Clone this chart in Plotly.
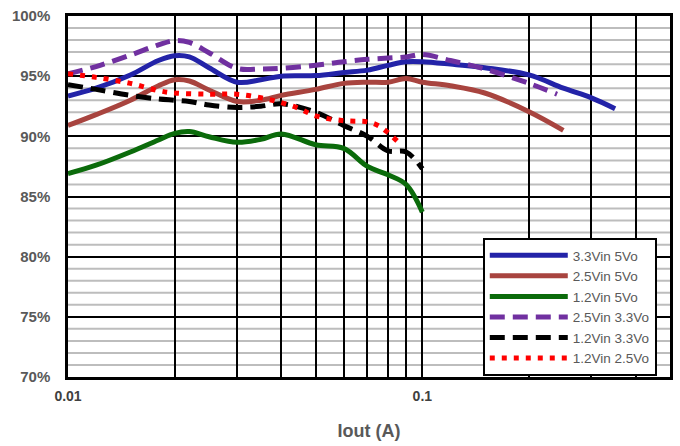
import plotly.graph_objects as go

# Data (efficiency in %, Iout in A)
x_33_5 = [0.01, 0.012, 0.015, 0.018, 0.02, 0.022, 0.025, 0.03, 0.035, 0.04, 0.05, 0.06, 0.07, 0.08, 0.09, 0.1, 0.12, 0.15, 0.2, 0.25, 0.3, 0.35]
y_33_5 = [93.35, 94.0, 95.1, 96.3, 96.7, 96.6, 95.7, 94.5, 94.7, 95.0, 95.05, 95.3, 95.5, 95.9, 96.2, 96.2, 96.0, 95.7, 95.1, 94.0, 93.2, 92.3]

x_25_5 = [0.01, 0.012, 0.015, 0.018, 0.02, 0.022, 0.025, 0.03, 0.035, 0.04, 0.05, 0.06, 0.07, 0.08, 0.09, 0.1, 0.12, 0.15, 0.2, 0.25]
y_25_5 = [90.9, 91.8, 93.0, 94.2, 94.7, 94.6, 93.85, 92.9, 93.0, 93.4, 93.9, 94.4, 94.5, 94.5, 94.8, 94.5, 94.2, 93.6, 92.05, 90.5]

x_12_5 = [0.01, 0.012, 0.015, 0.018, 0.02, 0.022, 0.025, 0.03, 0.035, 0.04, 0.05, 0.06, 0.07, 0.08, 0.09, 0.1]
y_12_5 = [86.9, 87.6, 88.7, 89.7, 90.25, 90.4, 89.97, 89.5, 89.75, 90.2, 89.3, 89.0, 87.5, 86.8, 86.0, 83.7]

x_25_33 = [0.01, 0.012, 0.015, 0.018, 0.02, 0.022, 0.025, 0.03, 0.035, 0.04, 0.05, 0.06, 0.07, 0.08, 0.09, 0.1, 0.12, 0.15, 0.2, 0.24]
y_25_33 = [95.2, 95.8, 96.75, 97.6, 97.95, 97.8, 96.95, 95.65, 95.6, 95.65, 95.9, 96.2, 96.4, 96.5, 96.6, 96.8, 96.3, 95.6, 94.4, 93.5]

x_12_33 = [0.01, 0.012, 0.015, 0.018, 0.02, 0.022, 0.025, 0.03, 0.035, 0.04, 0.05, 0.06, 0.07, 0.08, 0.09, 0.1]
y_12_33 = [94.3, 93.9, 93.4, 93.1, 93.0, 92.9, 92.6, 92.4, 92.5, 92.7, 92.0, 90.9, 90.0, 88.8, 88.7, 87.3]

x_12_25 = [0.01, 0.012, 0.015, 0.018, 0.02, 0.025, 0.03, 0.035, 0.04, 0.045, 0.05, 0.06, 0.07, 0.075, 0.08, 0.085]
y_12_25 = [95.2, 94.9, 94.4, 93.8, 93.6, 93.5, 93.5, 93.2, 92.8, 92.3, 91.7, 91.3, 91.2, 90.9, 90.3, 89.6]

x_tickvals = [0.01, 0.1]
x_ticktext = ["0.01", "0.1"]
x_minor_grid = [0.02, 0.03, 0.04, 0.05, 0.06, 0.07, 0.08, 0.09, 0.2, 0.3, 0.4]
y_minor_grid = [v for v in range(71, 100) if v % 5 != 0]

series = [
    ("3.3Vin 5Vo", x_33_5, y_33_5, "#2323A8", "solid"),
    ("2.5Vin 5Vo", x_25_5, y_25_5, "#A8443F", "solid"),
    ("1.2Vin 5Vo", x_12_5, y_12_5, "#0B6B0B", "solid"),
    ("2.5Vin 3.3Vo", x_25_33, y_25_33, "#7030A0", "15px,8px"),
    ("1.2Vin 3.3Vo", x_12_33, y_12_33, "#000000", "15px,8px"),
    ("1.2Vin 2.5Vo", x_12_25, y_12_25, "#FF0000", "5px,7px"),
]

fig = go.Figure()
for name, xs, ys, color, dash in series:
    fig.add_trace(go.Scatter(
        x=xs, y=ys, name=name, mode="lines",
        line=dict(color=color, width=5, dash=dash, shape="spline", smoothing=1.0),
    ))

# light-gray 1% grid lines, drawn beneath the black grid
for v in y_minor_grid:
    fig.add_shape(type="line", xref="paper", yref="y", x0=0, x1=1, y0=v, y1=v,
                  line=dict(color="#BDBDBD", width=2), layer="below")

fig.update_layout(
    width=680, height=446,
    margin=dict(l=68, r=7, t=16, b=69),
    paper_bgcolor="white", plot_bgcolor="white",
    showlegend=True,
    legend=dict(
        x=0.689, y=0.385, xanchor="left", yanchor="top",
        bgcolor="white", bordercolor="black", borderwidth=2,
        font=dict(family="Liberation Sans, Arial", size=13.5, color="#595959"),
        itemwidth=78,
    ),
    xaxis=dict(
        type="log", range=[-2, -0.30103],
        tickvals=x_tickvals, ticktext=x_ticktext,
        tickfont=dict(family="Liberation Sans, Arial", size=14, color="#404040", weight="bold"),
        ticks="", ticklabelstandoff=4,
        showgrid=True, gridcolor="black", gridwidth=1.5,
        minor=dict(tickvals=x_minor_grid, showgrid=True, gridcolor="black", gridwidth=1.5,
                   griddash="solid", ticks=""),
        showline=True, linecolor="black", linewidth=2.5, mirror=True,
        title=dict(text="Iout (A)", font=dict(family="Liberation Sans, Arial", size=18, color="#595959", weight="bold"), standoff=22),
        zeroline=False,
    ),
    yaxis=dict(
        range=[70, 100], dtick=5, ticksuffix="%",
        tickfont=dict(family="Liberation Sans, Arial", size=15, color="#595959", weight="bold"),
        ticks="", ticklabelstandoff=12,
        showgrid=True, gridcolor="black", gridwidth=1.5,
        showline=True, linecolor="black", linewidth=2.5, mirror=True,
        zeroline=False,
    ),
)

fig.write_html("out.html", config={"displayModeBar": False},
               post_script="document.body.style.margin='0';")
